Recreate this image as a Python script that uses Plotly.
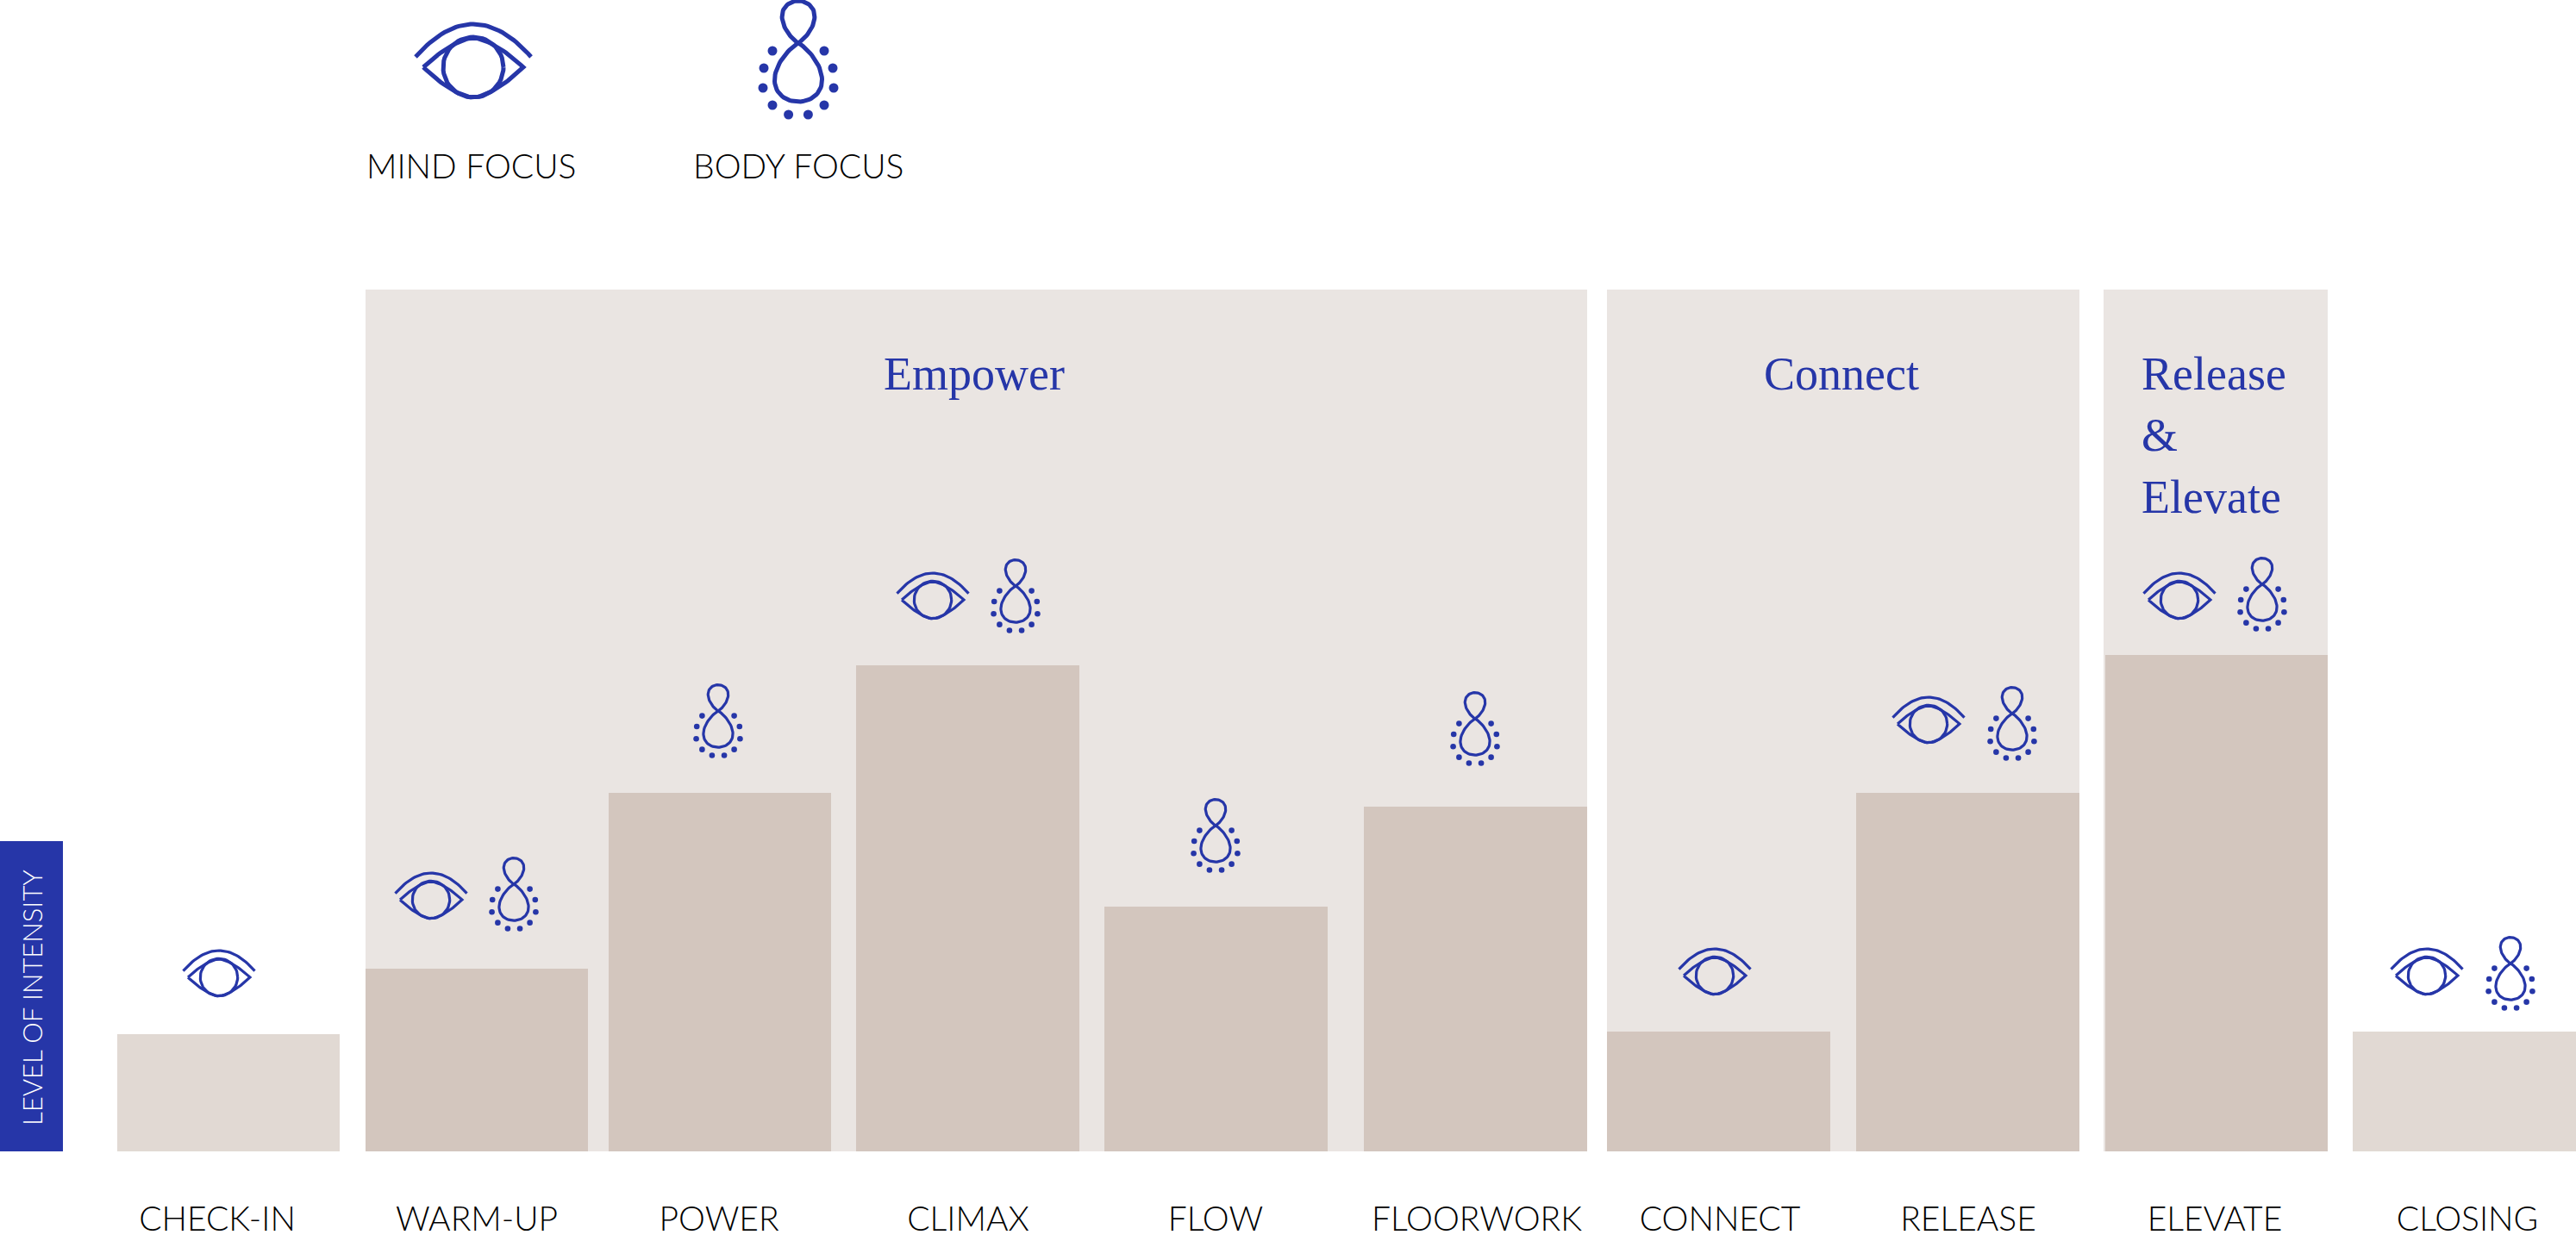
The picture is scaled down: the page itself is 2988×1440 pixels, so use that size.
import numpy as np
import plotly.graph_objects as go

# ---- data ----
categories = ["CHECK-IN", "WARM-UP", "POWER", "CLIMAX", "FLOW", "FLOORWORK",
              "CONNECT", "RELEASE", "ELEVATE", "CLOSING"]
intensity = [136, 212, 416, 564, 284, 400, 139, 416, 576, 139]
bar_left = [136, 424, 706, 993, 1281, 1582, 1864, 2153, 2442, 2729]
bar_right = [394, 682, 964, 1252, 1540, 1841, 2123, 2412, 2700, 2988]
label_x = [252, 553, 834, 1123, 1410, 1713, 1995, 2283, 2569, 2862]

phase_left = [424, 1864, 2440]
phase_right = [1841, 2412, 2700]
phase_height = [1000, 1000, 1000]

# icon anchors in chart units (x, height above baseline), scale
eye_anchors = [(549, 1258, 1.0), (254, 202, .62), (500, 292, .62), (1082, 640, .62),
               (1989, 204, .62), (2237, 496, .62), (2528, 640, .62), (2815, 204, .62)]
body_anchors = [(926, 1286, 1.0), (596, 310, .62), (833, 511, .62), (1178, 656, .62),
                (1410, 378, .62), (1711, 502, .62), (2334, 508, .62), (2624, 658, .62),
                (2912, 218, .62)]

BLUE = "#2636A8"
BAND = "#EAE5E2"
BAR = "#D3C6BE"
BAR_LIGHT = "#E1D9D3"
BLACK = "#000000"
BASE = 1336


def eye_path(cx, cy, s):
    xs, ys = [], []
    t = np.linspace(-1, 1, 41)
    # brow
    xs += list(cx + s * 67 * t) + [None]
    ys += list(cy + s * (50 - 38 * t ** 2)) + [None]
    # almond
    xs += list(cx + s * 58 * t) + list(cx - s * 58 * t) + [None]
    ys += list(cy + s * 34 * (1 - np.abs(t) ** 1.6)) + list(cy - s * 35 * (1 - np.abs(t) ** 1.6)) + [None]
    # iris
    a = np.linspace(0, 2 * np.pi, 61)
    xs += list(cx + s * 35 * np.cos(a)) + [None]
    ys += list(cy + s * 35 * np.sin(a)) + [None]
    return xs, ys


def loop(amp, height, n=81):
    """Teardrop leaving the crossing point with a straight, pointed tip."""
    t = np.linspace(0, 2 * np.pi, n)
    u = np.clip((1 - np.cos(t)) / 2, 0, 1)
    return amp * np.sign(np.sin(t)) * u ** 0.85 * (1 - u) ** 0.5, height * u


def body_path(cx, cy, s):
    lx, ly = loop(67, -68)
    ux, uy = loop(-46, 49)
    xs = list(cx + s * lx) + list(cx + s * ux) + [None]
    ys = list(cy + s * ly) + list(cy + s * uy) + [None]
    return xs, ys


dot_dx = [30, 40, 41, 30, 11.4]
dot_dy = [9, 29, 52, 72, 83]


def body_dots(cx, cy, s):
    xs, ys = [], []
    for dx, dy in zip(dot_dx, dot_dy):
        for sign in (-1, 1):
            xs.append(cx + sign * s * dx)
            ys.append(cy - s * dy)
    return xs, ys


fig = go.Figure()

fig.add_trace(go.Bar(
    x=[(a + b) / 2 for a, b in zip(phase_left, phase_right)],
    y=phase_height,
    width=[b - a for a, b in zip(phase_left, phase_right)],
    marker=dict(color=BAND, line=dict(width=0)),
    hoverinfo="skip", showlegend=False))

fig.add_trace(go.Bar(
    x=[(a + b) / 2 for a, b in zip(bar_left, bar_right)],
    y=intensity,
    width=[b - a for a, b in zip(bar_left, bar_right)],
    marker=dict(color=[BAR_LIGHT] + [BAR] * 8 + [BAR_LIGHT], line=dict(width=0)),
    customdata=categories, hovertemplate="%{customdata}: %{y}<extra></extra>",
    showlegend=False))

# icons, one stroke width per scale
for scale, width, dot in ((1.0, 5, 11), (.62, 3.2, 6.6)):
    ex, ey = [], []
    for cx, cy, s in eye_anchors:
        if s == scale:
            a, b = eye_path(cx, cy, s)
            ex += a
            ey += b
    bx, by, dx, dy = [], [], [], []
    for cx, cy, s in body_anchors:
        if s == scale:
            a, b = body_path(cx, cy, s)
            bx += a
            by += b
            a, b = body_dots(cx, cy, s)
            dx += a
            dy += b
    fig.add_trace(go.Scatter(x=ex + bx, y=ey + by, mode="lines", cliponaxis=False,
                             line=dict(color=BLUE, width=width, shape="linear"),
                             hoverinfo="skip", showlegend=False))
    fig.add_trace(go.Scatter(x=dx, y=dy, mode="markers", cliponaxis=False,
                             marker=dict(color=BLUE, size=dot, line=dict(width=0)),
                             hoverinfo="skip", showlegend=False))

SANS = dict(family="Lato", weight=300)
SERIF = "Liberation Serif"

# intensity tag
fig.add_shape(type="rect", xref="x", yref="y", x0=0, x1=73, y0=0, y1=360,
              fillcolor=BLUE, line=dict(width=0), layer="above")
fig.add_annotation(x=37, y=178, text="LEVEL OF INTENSITY", textangle=-90, showarrow=False,
                   font=dict(color="#FFFFFF", size=31, **SANS))

# legend captions
fig.add_annotation(x=546, y=BASE - 192, text="MIND FOCUS", showarrow=False,
                   font=dict(color=BLACK, size=39, **SANS))
fig.add_annotation(x=926, y=BASE - 192, text="BODY FOCUS", showarrow=False,
                   font=dict(color=BLACK, size=39, **SANS))

# phase titles
for x, y, anchor, txt in [(1130, 902, "center", "Empower"), (2136, 902, "center", "Connect"),
                          (2482, 902, "left", "Release"), (2482, 831, "left", "&"),
                          (2482, 759, "left", "Elevate")]:
    fig.add_annotation(x=x, y=y, text=txt, showarrow=False, xanchor=anchor,
                       font=dict(color=BLUE, size=54, family=SERIF))

fig.update_layout(
    width=2988, height=1440,
    margin=dict(l=0, r=0, t=0, b=104, pad=0, autoexpand=False),
    paper_bgcolor="#FFFFFF", plot_bgcolor="#FFFFFF",
    barmode="overlay", bargap=0,
    xaxis=dict(range=[0, 2988], tickmode="array", tickvals=label_x, ticktext=categories,
               showgrid=False, zeroline=False, showline=False, ticks="outside", ticklen=44,
               tickcolor="rgba(0,0,0,0)", tickfont=dict(color=BLACK, size=39, **SANS)),
    yaxis=dict(range=[0, BASE], showgrid=False, zeroline=False, showline=False,
               showticklabels=False, ticks=""),
)

fig.write_html("out.html", config=dict(displayModeBar=False),
               post_script="document.body.style.margin='0';document.documentElement.style.overflow='hidden';")
